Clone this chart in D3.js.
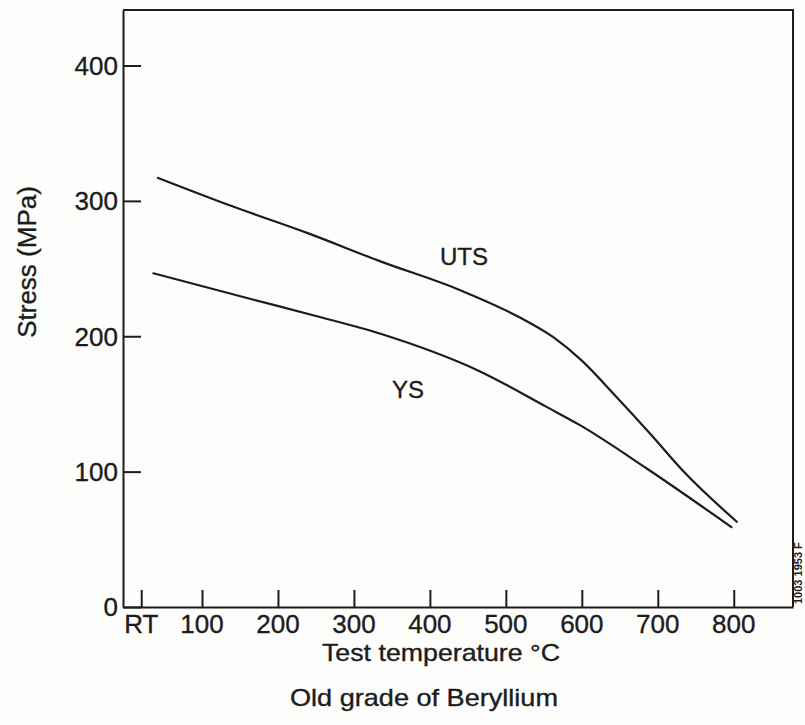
<!DOCTYPE html>
<html>
<head>
<meta charset="utf-8">
<script src="https://cdn.jsdelivr.net/npm/d3@7"></script>
<style>
  html, body { margin: 0; padding: 0; background: #fdfdfc; }
  svg { display: block; }
  text { font-family: "Liberation Sans", Arial, Helvetica, sans-serif; fill: #1c1c1c;
         stroke: #1c1c1c; stroke-width: 0.35px; }
</style>
</head>
<body>
<svg id="chart" width="805" height="725"></svg>
<script>
// Tensile properties of beryllium versus test temperature
const tickTemps = [20, 100, 200, 300, 400, 500, 600, 700, 800];
const tickLabels = ["RT", "100", "200", "300", "400", "500", "600", "700", "800"];
const stressTicks = [0, 100, 200, 300, 400];

// Ultimate tensile strength (UTS)
const utsTemp   = [42, 140, 240, 334, 440, 518, 562, 600, 645, 690, 735, 804];
const utsStress = [317, 296, 276, 255.5, 234, 214, 199.5, 182, 155.5, 128, 99.5, 63];

// Yield strength (YS)
const ysTemp   = [36, 168, 250, 334, 466, 553, 597, 685, 797];
const ysStress = [246.5, 227, 215, 202, 174, 148, 134.5, 102.5, 59];

const svg = d3.select("#chart");
const ink = "#1c1c1c";

const x = d3.scaleLinear().domain([-4, 878]).range([123, 793]);
const y = d3.scaleLinear().domain([0, 441]).range([607, 10]);

// Frame (top and right sides)
svg.append("path")
  .attr("d", `M${x(-4)},${y(441)}H${x(878)}V${y(0)}`)
  .attr("fill", "none").attr("stroke", ink).attr("stroke-width", 2);

// Left axis with inward ticks
const yAxis = svg.append("g").attr("transform", `translate(${x(-4)},0)`)
  .call(d3.axisRight(y).tickValues(stressTicks).tickSize(18).tickSizeOuter(0).tickFormat(""));
yAxis.select(".domain").attr("stroke", ink).attr("stroke-width", 2);
yAxis.selectAll(".tick line").attr("stroke", ink).attr("stroke-width", 2);

svg.append("g").selectAll("text").data(stressTicks).join("text")
  .attr("x", 118).attr("y", d => y(d)).attr("dy", "0.36em")
  .attr("text-anchor", "end").attr("font-size", 26)
  .text(d => d);

// Bottom axis with inward ticks
const xAxis = svg.append("g").attr("transform", `translate(0,${y(0)})`)
  .call(d3.axisTop(x).tickValues(tickTemps).tickSize(17).tickSizeOuter(0).tickFormat(""));
xAxis.select(".domain").attr("stroke", ink).attr("stroke-width", 2);
xAxis.selectAll(".tick line").attr("stroke", ink).attr("stroke-width", 2);

svg.append("g").selectAll("text").data(tickTemps).join("text")
  .attr("x", d => x(d)).attr("y", 633)
  .attr("text-anchor", "middle").attr("font-size", 26)
  .text((d, i) => tickLabels[i]);

// Curves
const line = d3.line().x(d => x(d[0])).y(d => y(d[1])).curve(d3.curveMonotoneX);
const series = [
  { name: "UTS", pts: d3.zip(utsTemp, utsStress) },
  { name: "YS",  pts: d3.zip(ysTemp, ysStress) }
];
svg.append("g").selectAll("path").data(series).join("path")
  .attr("d", d => line(d.pts))
  .attr("fill", "none").attr("stroke", ink).attr("stroke-width", 2.2)
  .attr("stroke-linecap", "round");

// Curve labels
svg.append("text").attr("x", 464).attr("y", 265).attr("text-anchor", "middle")
  .attr("font-size", 24).text("UTS");
svg.append("text").attr("x", 408).attr("y", 398).attr("text-anchor", "middle")
  .attr("font-size", 24).text("YS");

// Axis titles
svg.append("text").attr("x", 441).attr("y", 661).attr("text-anchor", "middle")
  .attr("font-size", 24).attr("textLength", 238).attr("lengthAdjust", "spacingAndGlyphs")
  .text("Test temperature °C");
svg.append("text").attr("x", 424).attr("y", 706).attr("text-anchor", "middle")
  .attr("font-size", 24).attr("textLength", 268).attr("lengthAdjust", "spacingAndGlyphs")
  .text("Old grade of Beryllium");
svg.append("text")
  .attr("transform", "translate(36,262) rotate(-90)")
  .attr("text-anchor", "middle").attr("font-size", 26)
  .text("Stress (MPa)");

// Figure reference number along the right edge
svg.append("text")
  .attr("transform", "translate(802,604) rotate(-90)")
  .attr("text-anchor", "start").attr("font-size", 11).attr("font-weight", "bold")
  .style("stroke-width", "0px")
  .text("1003 1953 F");
</script>
</body>
</html>
